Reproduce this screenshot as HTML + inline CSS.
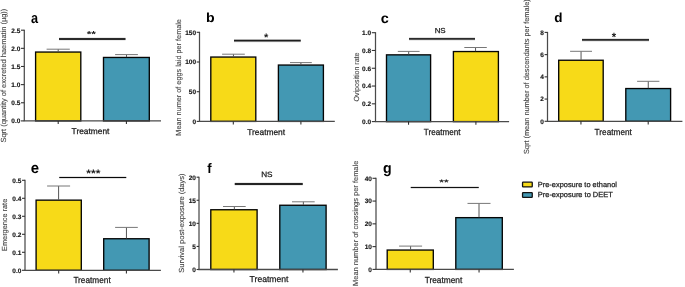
<!DOCTYPE html>
<html><head><meta charset="utf-8"><style>
html,body{margin:0;padding:0;background:#fff;}
svg{display:block;font-family:"Liberation Sans", sans-serif;will-change:transform;text-rendering:geometricPrecision;}
</style></head><body>
<svg width="685" height="287" viewBox="0 0 685 287">
<rect width="685" height="287" fill="#fff"/>
<rect x="35.60" y="52.05" width="45.20" height="68.85" fill="#f7da18" stroke="#050505" stroke-width="1.35"/>
<line x1="58.20" y1="49.20" x2="58.20" y2="51.70" stroke="#555" stroke-width="1"/>
<line x1="46.6" y1="49.2" x2="69.8" y2="49.2" stroke="#777" stroke-width="1"/>
<rect x="103.50" y="57.45" width="45.80" height="63.45" fill="#4398b3" stroke="#050505" stroke-width="1.35"/>
<line x1="126.50" y1="54.60" x2="126.50" y2="57.10" stroke="#555" stroke-width="1"/>
<line x1="115.1" y1="54.6" x2="137.9" y2="54.6" stroke="#777" stroke-width="1"/>
<line x1="24.3" y1="29.70" x2="24.3" y2="120.90" stroke="#4a4a4a" stroke-width="1.25"/>
<line x1="21.00" y1="120.90" x2="24.3" y2="120.90" stroke="#333" stroke-width="1.1"/>
<text x="20.36" y="123.20" font-size="6.5" font-weight="700" text-anchor="end" fill="#151515" stroke="#151515" stroke-width="0.15">0.0</text>
<line x1="21.00" y1="102.76" x2="24.3" y2="102.76" stroke="#333" stroke-width="1.1"/>
<text x="20.36" y="105.06" font-size="6.5" font-weight="700" text-anchor="end" fill="#151515" stroke="#151515" stroke-width="0.15">0.5</text>
<line x1="21.00" y1="84.62" x2="24.3" y2="84.62" stroke="#333" stroke-width="1.1"/>
<text x="20.36" y="86.92" font-size="6.5" font-weight="700" text-anchor="end" fill="#151515" stroke="#151515" stroke-width="0.15">1.0</text>
<line x1="21.00" y1="66.48" x2="24.3" y2="66.48" stroke="#333" stroke-width="1.1"/>
<text x="20.36" y="68.78" font-size="6.5" font-weight="700" text-anchor="end" fill="#151515" stroke="#151515" stroke-width="0.15">1.5</text>
<line x1="21.00" y1="48.34" x2="24.3" y2="48.34" stroke="#333" stroke-width="1.1"/>
<text x="20.36" y="50.64" font-size="6.5" font-weight="700" text-anchor="end" fill="#151515" stroke="#151515" stroke-width="0.15">2.0</text>
<line x1="21.00" y1="30.20" x2="24.3" y2="30.20" stroke="#333" stroke-width="1.1"/>
<text x="20.36" y="32.50" font-size="6.5" font-weight="700" text-anchor="end" fill="#151515" stroke="#151515" stroke-width="0.15">2.5</text>
<line x1="23.7" y1="120.9" x2="161" y2="120.9" stroke="#4a4a4a" stroke-width="1.3"/>
<line x1="58.20" y1="120.9" x2="58.20" y2="124.00" stroke="#2a2a2a" stroke-width="1.05"/>
<line x1="126.40" y1="120.9" x2="126.40" y2="124.00" stroke="#2a2a2a" stroke-width="1.05"/>
<text font-size="8.314" font-weight="400" fill="#1a1a1a" stroke="#1a1a1a" stroke-width="0.25" transform="translate(71.62,133.54) scale(1.0074,1)">Treatment</text>
<line x1="59" y1="39.0" x2="125.5" y2="39.0" stroke="#d8d8d8" stroke-width="3.10"/>
<line x1="59" y1="39.0" x2="125.5" y2="39.0" stroke="#2a2a2a" stroke-width="1.9"/>
<text font-size="8.811" font-weight="700" fill="#1a1a1a" transform="translate(86.66,37.26) scale(1.3559,1)">**</text>
<text font-size="14.800" font-weight="700" fill="#000" transform="translate(31.01,23.35) scale(0.8580,1)">a</text>
<text font-size="7.400" font-weight="400" fill="#444" stroke="#444" stroke-width="0.1" transform="translate(6.20,142.54) rotate(-90) scale(1.0078,1)">Sqrt (quantity of excreted haematin (µg))</text>
<rect x="210.80" y="57.05" width="45.00" height="64.35" fill="#f7da18" stroke="#050505" stroke-width="1.35"/>
<line x1="233.45" y1="54.20" x2="233.45" y2="56.70" stroke="#555" stroke-width="1"/>
<line x1="222.1" y1="54.2" x2="244.8" y2="54.2" stroke="#777" stroke-width="1"/>
<rect x="278.40" y="65.05" width="45.00" height="56.35" fill="#4398b3" stroke="#050505" stroke-width="1.35"/>
<line x1="300.90" y1="62.60" x2="300.90" y2="64.70" stroke="#555" stroke-width="1"/>
<line x1="290" y1="62.6" x2="311.8" y2="62.6" stroke="#777" stroke-width="1"/>
<line x1="199.5" y1="31.80" x2="199.5" y2="121.40" stroke="#4a4a4a" stroke-width="1.25"/>
<line x1="196.70" y1="121.40" x2="199.5" y2="121.40" stroke="#333" stroke-width="1.1"/>
<text x="196.06" y="123.70" font-size="6.5" font-weight="700" text-anchor="end" fill="#151515" stroke="#151515" stroke-width="0.15">0</text>
<line x1="196.70" y1="91.70" x2="199.5" y2="91.70" stroke="#333" stroke-width="1.1"/>
<text x="196.06" y="94.00" font-size="6.5" font-weight="700" text-anchor="end" fill="#151515" stroke="#151515" stroke-width="0.15">50</text>
<line x1="196.70" y1="62.00" x2="199.5" y2="62.00" stroke="#333" stroke-width="1.1"/>
<text x="196.06" y="64.30" font-size="6.5" font-weight="700" text-anchor="end" fill="#151515" stroke="#151515" stroke-width="0.15">100</text>
<line x1="196.70" y1="32.30" x2="199.5" y2="32.30" stroke="#333" stroke-width="1.1"/>
<text x="196.06" y="34.60" font-size="6.5" font-weight="700" text-anchor="end" fill="#151515" stroke="#151515" stroke-width="0.15">150</text>
<line x1="198.9" y1="121.4" x2="334.8" y2="121.4" stroke="#4a4a4a" stroke-width="1.3"/>
<line x1="233.30" y1="121.4" x2="233.30" y2="124.50" stroke="#2a2a2a" stroke-width="1.05"/>
<line x1="300.90" y1="121.4" x2="300.90" y2="124.50" stroke="#2a2a2a" stroke-width="1.05"/>
<text font-size="8.499" font-weight="400" fill="#1a1a1a" stroke="#1a1a1a" stroke-width="0.25" transform="translate(247.20,134.72) scale(0.9885,1)">Treatment</text>
<line x1="234" y1="40.7" x2="300.75" y2="40.7" stroke="#d8d8d8" stroke-width="3.00"/>
<line x1="234" y1="40.7" x2="300.75" y2="40.7" stroke="#1e1e1e" stroke-width="1.8"/>
<text font-size="10.857" font-weight="700" fill="#1a1a1a" transform="translate(264.03,40.60) scale(1.0281,1)">*</text>
<text font-size="13.111" font-weight="700" fill="#000" transform="translate(206.12,22.42) scale(1.0786,1)">b</text>
<text font-size="7.400" font-weight="400" fill="#444" stroke="#444" stroke-width="0.1" transform="translate(181.00,135.63) rotate(-90) scale(0.9850,1)">Mean numer of eggs laid per female</text>
<rect x="386.50" y="54.85" width="44.10" height="66.75" fill="#4398b3" stroke="#050505" stroke-width="1.35"/>
<line x1="408.70" y1="51.40" x2="408.70" y2="54.50" stroke="#555" stroke-width="1"/>
<line x1="397.8" y1="51.4" x2="419.6" y2="51.4" stroke="#777" stroke-width="1"/>
<rect x="453.40" y="51.55" width="45.00" height="70.05" fill="#f7da18" stroke="#050505" stroke-width="1.35"/>
<line x1="475.55" y1="47.50" x2="475.55" y2="51.20" stroke="#555" stroke-width="1"/>
<line x1="464.3" y1="47.5" x2="486.8" y2="47.5" stroke="#777" stroke-width="1"/>
<line x1="375.5" y1="32.20" x2="375.5" y2="121.60" stroke="#4a4a4a" stroke-width="1.25"/>
<line x1="371.80" y1="121.60" x2="375.5" y2="121.60" stroke="#333" stroke-width="1.1"/>
<text x="371.16" y="123.90" font-size="6.5" font-weight="700" text-anchor="end" fill="#151515" stroke="#151515" stroke-width="0.15">0.0</text>
<line x1="371.80" y1="103.82" x2="375.5" y2="103.82" stroke="#333" stroke-width="1.1"/>
<text x="371.16" y="106.12" font-size="6.5" font-weight="700" text-anchor="end" fill="#151515" stroke="#151515" stroke-width="0.15">0.2</text>
<line x1="371.80" y1="86.04" x2="375.5" y2="86.04" stroke="#333" stroke-width="1.1"/>
<text x="371.16" y="88.34" font-size="6.5" font-weight="700" text-anchor="end" fill="#151515" stroke="#151515" stroke-width="0.15">0.4</text>
<line x1="371.80" y1="68.26" x2="375.5" y2="68.26" stroke="#333" stroke-width="1.1"/>
<text x="371.16" y="70.56" font-size="6.5" font-weight="700" text-anchor="end" fill="#151515" stroke="#151515" stroke-width="0.15">0.6</text>
<line x1="371.80" y1="50.48" x2="375.5" y2="50.48" stroke="#333" stroke-width="1.1"/>
<text x="371.16" y="52.78" font-size="6.5" font-weight="700" text-anchor="end" fill="#151515" stroke="#151515" stroke-width="0.15">0.8</text>
<line x1="371.80" y1="32.70" x2="375.5" y2="32.70" stroke="#333" stroke-width="1.1"/>
<text x="371.16" y="35.00" font-size="6.5" font-weight="700" text-anchor="end" fill="#151515" stroke="#151515" stroke-width="0.15">1.0</text>
<line x1="374.9" y1="121.6" x2="509.1" y2="121.6" stroke="#4a4a4a" stroke-width="1.3"/>
<line x1="408.55" y1="121.6" x2="408.55" y2="124.70" stroke="#2a2a2a" stroke-width="1.05"/>
<line x1="475.90" y1="121.6" x2="475.90" y2="124.70" stroke="#2a2a2a" stroke-width="1.05"/>
<text font-size="8.824" font-weight="400" fill="#1a1a1a" stroke="#1a1a1a" stroke-width="0.25" transform="translate(423.79,134.68) scale(0.9214,1)">Treatment</text>
<line x1="409" y1="38.9" x2="475" y2="38.9" stroke="#d8d8d8" stroke-width="3.10"/>
<line x1="409" y1="38.9" x2="475" y2="38.9" stroke="#2c2c2c" stroke-width="1.9"/>
<text font-size="7.239" font-weight="400" fill="#1a1a1a" stroke="#1a1a1a" stroke-width="0.25" transform="translate(434.66,32.98) scale(1.0961,1)">NS</text>
<text font-size="14.100" font-weight="700" fill="#000" transform="translate(380.81,23.31) scale(1.0230,1)">c</text>
<text font-size="7.400" font-weight="400" fill="#444" stroke="#444" stroke-width="0.1" transform="translate(358.90,101.46) rotate(-90) scale(0.9517,1)">Oviposition rate</text>
<rect x="558.70" y="60.25" width="44.50" height="61.05" fill="#f7da18" stroke="#050505" stroke-width="1.35"/>
<line x1="581.05" y1="51.30" x2="581.05" y2="59.90" stroke="#555" stroke-width="1"/>
<line x1="570.1" y1="51.3" x2="592" y2="51.3" stroke="#777" stroke-width="1"/>
<rect x="625.80" y="88.55" width="44.80" height="32.75" fill="#4398b3" stroke="#050505" stroke-width="1.35"/>
<line x1="648.25" y1="81.30" x2="648.25" y2="88.20" stroke="#555" stroke-width="1"/>
<line x1="637.1" y1="81.3" x2="659.4" y2="81.3" stroke="#777" stroke-width="1"/>
<line x1="547.5" y1="31.90" x2="547.5" y2="121.30" stroke="#4a4a4a" stroke-width="1.25"/>
<line x1="544.60" y1="121.30" x2="547.5" y2="121.30" stroke="#333" stroke-width="1.1"/>
<text x="543.96" y="123.60" font-size="6.5" font-weight="700" text-anchor="end" fill="#151515" stroke="#151515" stroke-width="0.15">0</text>
<line x1="544.60" y1="99.07" x2="547.5" y2="99.07" stroke="#333" stroke-width="1.1"/>
<text x="543.96" y="101.37" font-size="6.5" font-weight="700" text-anchor="end" fill="#151515" stroke="#151515" stroke-width="0.15">2</text>
<line x1="544.60" y1="76.85" x2="547.5" y2="76.85" stroke="#333" stroke-width="1.1"/>
<text x="543.96" y="79.15" font-size="6.5" font-weight="700" text-anchor="end" fill="#151515" stroke="#151515" stroke-width="0.15">4</text>
<line x1="544.60" y1="54.62" x2="547.5" y2="54.62" stroke="#333" stroke-width="1.1"/>
<text x="543.96" y="56.92" font-size="6.5" font-weight="700" text-anchor="end" fill="#151515" stroke="#151515" stroke-width="0.15">6</text>
<line x1="544.60" y1="32.40" x2="547.5" y2="32.40" stroke="#333" stroke-width="1.1"/>
<text x="543.96" y="34.70" font-size="6.5" font-weight="700" text-anchor="end" fill="#151515" stroke="#151515" stroke-width="0.15">8</text>
<line x1="546.9" y1="121.3" x2="682.4" y2="121.3" stroke="#4a4a4a" stroke-width="1.3"/>
<line x1="580.95" y1="121.3" x2="580.95" y2="124.40" stroke="#2a2a2a" stroke-width="1.05"/>
<line x1="648.20" y1="121.3" x2="648.20" y2="124.40" stroke="#2a2a2a" stroke-width="1.05"/>
<text font-size="8.747" font-weight="400" fill="#1a1a1a" stroke="#1a1a1a" stroke-width="0.25" transform="translate(594.58,134.56) scale(0.9445,1)">Treatment</text>
<line x1="582" y1="39.9" x2="649" y2="39.9" stroke="#d8d8d8" stroke-width="3.10"/>
<line x1="582" y1="39.9" x2="649" y2="39.9" stroke="#2a2a2a" stroke-width="1.9"/>
<text font-size="12.151" font-weight="700" fill="#1a1a1a" transform="translate(611.67,40.67) scale(0.9232,1)">*</text>
<text font-size="13.190" font-weight="700" fill="#000" transform="translate(554.25,22.48) scale(1.0233,1)">d</text>
<text font-size="7.400" font-weight="400" fill="#444" stroke="#444" stroke-width="0.1" transform="translate(528.90,154.07) rotate(-90) scale(0.9970,1)">Sqrt (mean number of descendants per female)</text>
<rect x="36.10" y="200.15" width="45.20" height="70.15" fill="#f7da18" stroke="#050505" stroke-width="1.35"/>
<line x1="58.60" y1="186.00" x2="58.60" y2="199.80" stroke="#555" stroke-width="1"/>
<line x1="47.1" y1="186" x2="70.1" y2="186" stroke="#777" stroke-width="1"/>
<rect x="103.70" y="238.75" width="45.40" height="31.55" fill="#4398b3" stroke="#050505" stroke-width="1.35"/>
<line x1="126.45" y1="227.40" x2="126.45" y2="238.40" stroke="#555" stroke-width="1"/>
<line x1="115.1" y1="227.4" x2="137.8" y2="227.4" stroke="#777" stroke-width="1"/>
<line x1="25" y1="179.80" x2="25" y2="270.30" stroke="#4a4a4a" stroke-width="1.25"/>
<line x1="22.00" y1="270.30" x2="25" y2="270.30" stroke="#333" stroke-width="1.1"/>
<text x="21.36" y="272.60" font-size="6.5" font-weight="700" text-anchor="end" fill="#151515" stroke="#151515" stroke-width="0.15">0.0</text>
<line x1="22.00" y1="252.30" x2="25" y2="252.30" stroke="#333" stroke-width="1.1"/>
<text x="21.36" y="254.60" font-size="6.5" font-weight="700" text-anchor="end" fill="#151515" stroke="#151515" stroke-width="0.15">0.1</text>
<line x1="22.00" y1="234.30" x2="25" y2="234.30" stroke="#333" stroke-width="1.1"/>
<text x="21.36" y="236.60" font-size="6.5" font-weight="700" text-anchor="end" fill="#151515" stroke="#151515" stroke-width="0.15">0.2</text>
<line x1="22.00" y1="216.30" x2="25" y2="216.30" stroke="#333" stroke-width="1.1"/>
<text x="21.36" y="218.60" font-size="6.5" font-weight="700" text-anchor="end" fill="#151515" stroke="#151515" stroke-width="0.15">0.3</text>
<line x1="22.00" y1="198.30" x2="25" y2="198.30" stroke="#333" stroke-width="1.1"/>
<text x="21.36" y="200.60" font-size="6.5" font-weight="700" text-anchor="end" fill="#151515" stroke="#151515" stroke-width="0.15">0.4</text>
<line x1="22.00" y1="180.30" x2="25" y2="180.30" stroke="#333" stroke-width="1.1"/>
<text x="21.36" y="182.60" font-size="6.5" font-weight="700" text-anchor="end" fill="#151515" stroke="#151515" stroke-width="0.15">0.5</text>
<line x1="24.4" y1="270.3" x2="160.9" y2="270.3" stroke="#4a4a4a" stroke-width="1.3"/>
<line x1="58.70" y1="270.3" x2="58.70" y2="273.40" stroke="#2a2a2a" stroke-width="1.05"/>
<line x1="126.40" y1="270.3" x2="126.40" y2="273.40" stroke="#2a2a2a" stroke-width="1.05"/>
<text font-size="8.740" font-weight="400" fill="#1a1a1a" stroke="#1a1a1a" stroke-width="0.25" transform="translate(73.38,283.26) scale(0.9456,1)">Treatment</text>
<line x1="59.25" y1="177.5" x2="126.25" y2="177.5" stroke="#d8d8d8" stroke-width="2.30"/>
<line x1="59.25" y1="177.5" x2="126.25" y2="177.5" stroke="#080808" stroke-width="1.1"/>
<text font-size="10.762" font-weight="700" fill="#1a1a1a" transform="translate(86.29,177.22) scale(1.1250,1)">***</text>
<text font-size="15.211" font-weight="700" fill="#000" transform="translate(30.63,173.34) scale(0.9827,1)">e</text>
<text font-size="7.400" font-weight="400" fill="#444" stroke="#444" stroke-width="0.1" transform="translate(7.40,250.93) rotate(-90) scale(0.9916,1)">Emergence rate</text>
<rect x="210.80" y="209.75" width="46.30" height="59.75" fill="#f7da18" stroke="#050505" stroke-width="1.35"/>
<line x1="234.35" y1="206.50" x2="234.35" y2="209.40" stroke="#555" stroke-width="1"/>
<line x1="223" y1="206.5" x2="245.7" y2="206.5" stroke="#777" stroke-width="1"/>
<rect x="279.80" y="205.25" width="46.30" height="64.25" fill="#4398b3" stroke="#050505" stroke-width="1.35"/>
<line x1="303.35" y1="201.80" x2="303.35" y2="204.90" stroke="#555" stroke-width="1"/>
<line x1="292" y1="201.8" x2="314.7" y2="201.8" stroke="#777" stroke-width="1"/>
<line x1="199" y1="176.70" x2="199" y2="269.50" stroke="#4a4a4a" stroke-width="1.25"/>
<line x1="196.60" y1="269.50" x2="199" y2="269.50" stroke="#333" stroke-width="1.1"/>
<text x="195.96" y="271.80" font-size="6.5" font-weight="700" text-anchor="end" fill="#151515" stroke="#151515" stroke-width="0.15">0</text>
<line x1="196.60" y1="246.43" x2="199" y2="246.43" stroke="#333" stroke-width="1.1"/>
<text x="195.96" y="248.73" font-size="6.5" font-weight="700" text-anchor="end" fill="#151515" stroke="#151515" stroke-width="0.15">5</text>
<line x1="196.60" y1="223.35" x2="199" y2="223.35" stroke="#333" stroke-width="1.1"/>
<text x="195.96" y="225.65" font-size="6.5" font-weight="700" text-anchor="end" fill="#151515" stroke="#151515" stroke-width="0.15">10</text>
<line x1="196.60" y1="200.27" x2="199" y2="200.27" stroke="#333" stroke-width="1.1"/>
<text x="195.96" y="202.57" font-size="6.5" font-weight="700" text-anchor="end" fill="#151515" stroke="#151515" stroke-width="0.15">15</text>
<line x1="196.60" y1="177.20" x2="199" y2="177.20" stroke="#333" stroke-width="1.1"/>
<text x="195.96" y="179.50" font-size="6.5" font-weight="700" text-anchor="end" fill="#151515" stroke="#151515" stroke-width="0.15">20</text>
<line x1="198.4" y1="269.5" x2="337.9" y2="269.5" stroke="#4a4a4a" stroke-width="1.3"/>
<line x1="233.95" y1="269.5" x2="233.95" y2="272.60" stroke="#2a2a2a" stroke-width="1.05"/>
<line x1="302.95" y1="269.5" x2="302.95" y2="272.60" stroke="#2a2a2a" stroke-width="1.05"/>
<text font-size="8.719" font-weight="400" fill="#1a1a1a" stroke="#1a1a1a" stroke-width="0.25" transform="translate(249.59,282.36) scale(0.9895,1)">Treatment</text>
<line x1="234.75" y1="184.0" x2="302.75" y2="184.0" stroke="#d8d8d8" stroke-width="3.00"/>
<line x1="234.75" y1="184.0" x2="302.75" y2="184.0" stroke="#242424" stroke-width="1.8"/>
<text font-size="7.710" font-weight="400" fill="#1a1a1a" stroke="#1a1a1a" stroke-width="0.25" transform="translate(261.19,177.24) scale(1.0653,1)">NS</text>
<text font-size="13.948" font-weight="700" fill="#000" transform="translate(207.14,172.71) scale(0.9378,1)">f</text>
<text font-size="7.400" font-weight="400" fill="#444" stroke="#444" stroke-width="0.1" transform="translate(184.30,272.73) rotate(-90) scale(1.0150,1)">Survival post-exposure (days)</text>
<rect x="387.20" y="250.05" width="46.10" height="19.35" fill="#f7da18" stroke="#050505" stroke-width="1.35"/>
<line x1="410.60" y1="246.10" x2="410.60" y2="249.70" stroke="#555" stroke-width="1"/>
<line x1="399.1" y1="246.1" x2="422.1" y2="246.1" stroke="#777" stroke-width="1"/>
<rect x="455.80" y="217.65" width="46.50" height="51.75" fill="#4398b3" stroke="#050505" stroke-width="1.35"/>
<line x1="479.00" y1="203.40" x2="479.00" y2="217.30" stroke="#555" stroke-width="1"/>
<line x1="467.5" y1="203.4" x2="490.5" y2="203.4" stroke="#777" stroke-width="1"/>
<line x1="376" y1="177.80" x2="376" y2="269.40" stroke="#4a4a4a" stroke-width="1.25"/>
<line x1="372.50" y1="269.40" x2="376" y2="269.40" stroke="#333" stroke-width="1.1"/>
<text x="371.86" y="271.70" font-size="6.5" font-weight="700" text-anchor="end" fill="#151515" stroke="#151515" stroke-width="0.15">0</text>
<line x1="372.50" y1="246.62" x2="376" y2="246.62" stroke="#333" stroke-width="1.1"/>
<text x="371.86" y="248.93" font-size="6.5" font-weight="700" text-anchor="end" fill="#151515" stroke="#151515" stroke-width="0.15">10</text>
<line x1="372.50" y1="223.85" x2="376" y2="223.85" stroke="#333" stroke-width="1.1"/>
<text x="371.86" y="226.15" font-size="6.5" font-weight="700" text-anchor="end" fill="#151515" stroke="#151515" stroke-width="0.15">20</text>
<line x1="372.50" y1="201.07" x2="376" y2="201.07" stroke="#333" stroke-width="1.1"/>
<text x="371.86" y="203.38" font-size="6.5" font-weight="700" text-anchor="end" fill="#151515" stroke="#151515" stroke-width="0.15">30</text>
<line x1="372.50" y1="178.30" x2="376" y2="178.30" stroke="#333" stroke-width="1.1"/>
<text x="371.86" y="180.60" font-size="6.5" font-weight="700" text-anchor="end" fill="#151515" stroke="#151515" stroke-width="0.15">40</text>
<line x1="375.4" y1="269.4" x2="513.9" y2="269.4" stroke="#4a4a4a" stroke-width="1.3"/>
<line x1="410.25" y1="269.4" x2="410.25" y2="272.50" stroke="#2a2a2a" stroke-width="1.05"/>
<line x1="479.05" y1="269.4" x2="479.05" y2="272.50" stroke="#2a2a2a" stroke-width="1.05"/>
<text font-size="8.756" font-weight="400" fill="#1a1a1a" stroke="#1a1a1a" stroke-width="0.25" transform="translate(424.64,282.58) scale(0.9527,1)">Treatment</text>
<line x1="410.75" y1="187.5" x2="478.75" y2="187.5" stroke="#d8d8d8" stroke-width="2.40"/>
<line x1="410.75" y1="187.5" x2="478.75" y2="187.5" stroke="#111" stroke-width="1.2"/>
<text font-size="8.181" font-weight="700" fill="#1a1a1a" transform="translate(439.24,185.21) scale(1.4666,1)">**</text>
<text font-size="14.863" font-weight="700" fill="#000" transform="translate(382.96,173.23) scale(0.9529,1)">g</text>
<text font-size="7.400" font-weight="400" fill="#444" stroke="#444" stroke-width="0.1" transform="translate(357.60,285.92) rotate(-90) scale(1.0096,1)">Mean number of crossings per female</text>
<rect x="522.55" y="182.15" width="9.7" height="4.8" rx="0.6" fill="#f7da18" stroke="#111" stroke-width="1.3"/>
<rect x="522.55" y="192.65" width="9.7" height="4.8" rx="0.6" fill="#4398b3" stroke="#111" stroke-width="1.3"/>
<text font-size="7.300" font-weight="400" fill="#222" stroke="#222" stroke-width="0.25" transform="translate(537.81,186.50) scale(1.0160,1)">Pre-exposure to ethanol</text>
<text font-size="7.300" font-weight="400" fill="#222" stroke="#222" stroke-width="0.25" transform="translate(537.80,196.90) scale(1.0205,1)">Pre-exposure to DEET</text>
</svg>
</body></html>
